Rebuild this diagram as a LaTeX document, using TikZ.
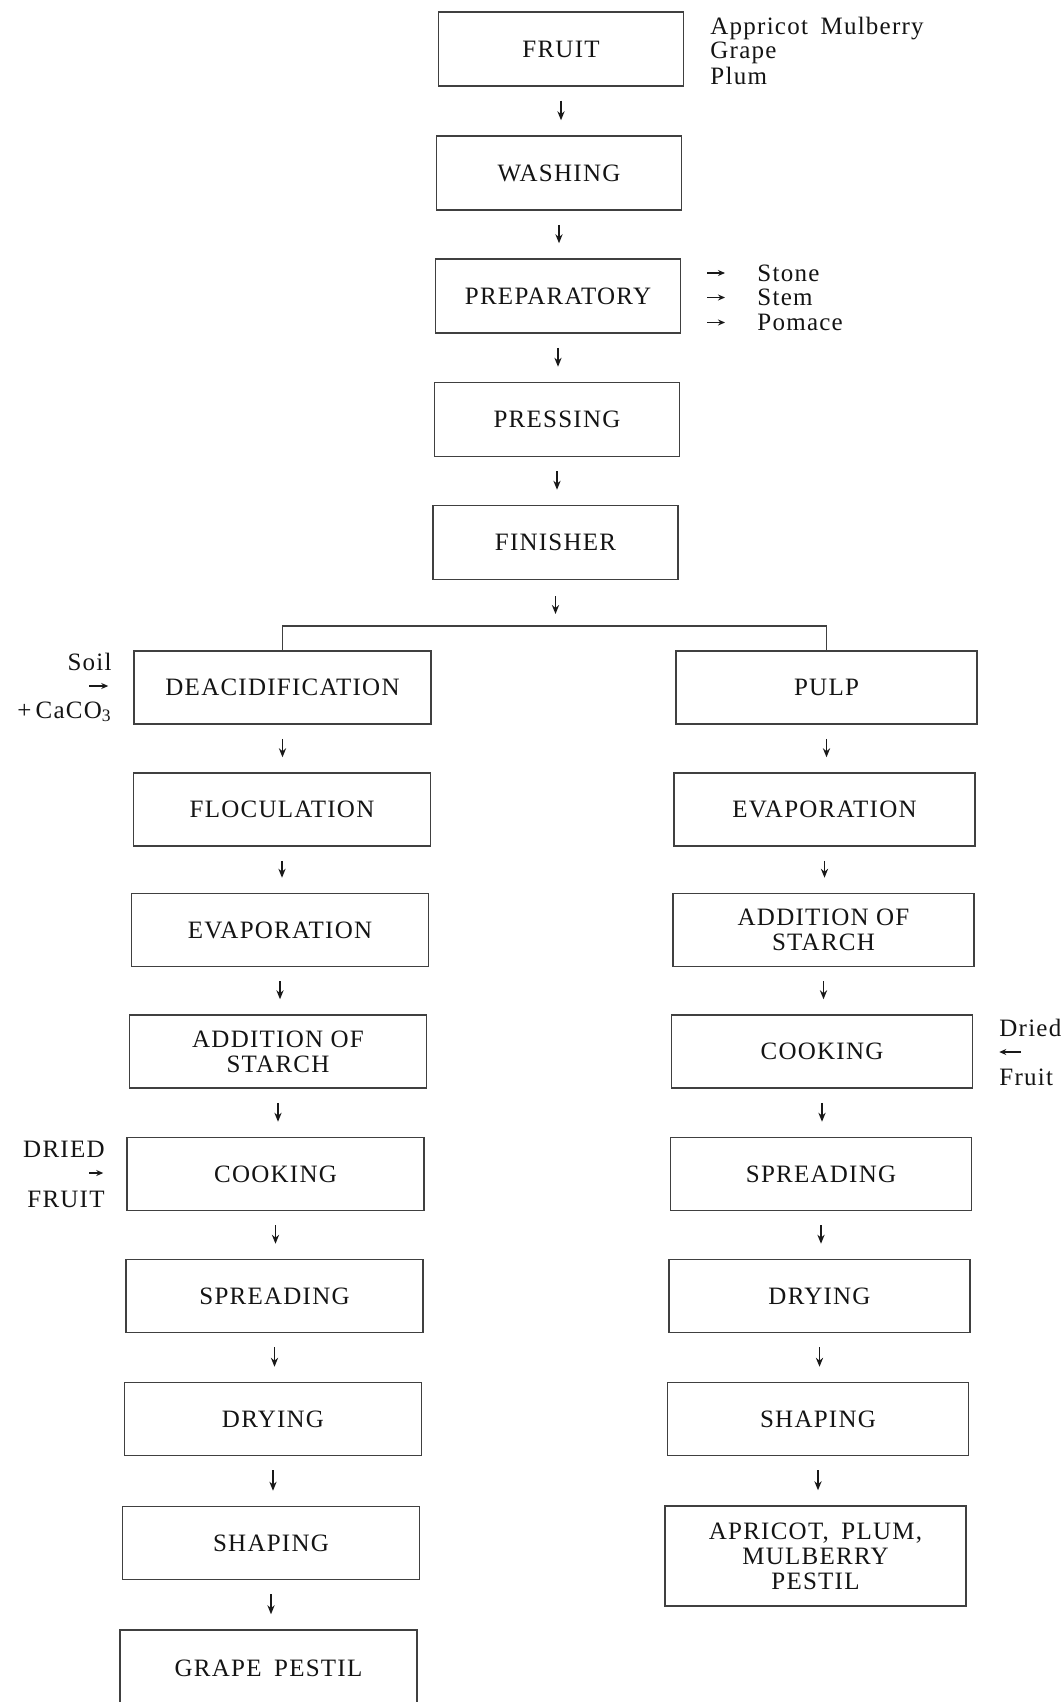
\documentclass[tikz,border=0pt]{standalone}
\usepackage{fontspec}
\setmainfont{Liberation Serif}[LetterSpace=5]
\usetikzlibrary{arrows.meta}
\begin{document}
\begin{tikzpicture}[x=0.5pt,y=-0.5pt,
  every node/.style={font=\fontsize{12.5}{12.5}\selectfont, text=black!92},
  stepbox/.style={draw=black!75, line width=0.75pt, align=center, inner sep=2pt},
  topbox/.style={stepbox, minimum width=122.5pt, minimum height=37pt},
  leftbox/.style={stepbox, minimum width=148.5pt, minimum height=36.5pt},
  rightbox/.style={stepbox, minimum width=150.5pt, minimum height=36.5pt},
  flow/.style={draw=black!90, line width=0.8pt, -{Stealth[length=4.5pt,width=3.6pt]},
    shorten <=7pt, shorten >=7.5pt},
  sidearrow/.style={draw=black!90, line width=0.8pt, -{Stealth[length=3.5pt,width=3pt]}},
  bracket/.style={draw=black!75, line width=0.75pt},
  note/.style={inner sep=0pt, align=left}]
\useasboundingbox (0,0) rectangle (1063,1702);
\fill[white] (0,0) rectangle (1063,1702);

% main line
\node[topbox] (fruit) at (561,49) {FRUIT};
\node[topbox] (wash)  at (559,173) {WASHING};
\node[topbox] (prep)  at (558,296) {PREPARATORY};
\node[topbox] (press) at (557,419.5) {PRESSING};
\node[topbox] (fin)   at (555.5,542.5) {FINISHER};

% grape branch
\node[leftbox] (deac)   at (282.5,687.5) {DEACIDIFICATION};
\node[leftbox] (floc)   at (282,809.5) {FLOCULATION};
\node[leftbox] (levap)  at (280,930) {EVAPORATION};
\node[leftbox] (lstar)  at (278,1051.5) {ADDITION OF\\STARCH};
\node[leftbox] (lcook)  at (275.5,1174) {COOKING};
\node[leftbox] (lspr)   at (274.5,1296) {SPREADING};
\node[leftbox] (ldry)   at (273,1419) {DRYING};
\node[leftbox] (lshape) at (271,1543) {SHAPING};
\node[leftbox, minimum height=38pt] (grape) at (268.5,1668) {GRAPE\enspace PESTIL};

% apricot / plum / mulberry branch
\node[rightbox] (pulp)   at (826.5,687.5) {PULP};
\node[rightbox] (revap)  at (824.5,809.5) {EVAPORATION};
\node[rightbox] (rstar)  at (823.5,930) {ADDITION OF\\STARCH};
\node[rightbox] (rcook)  at (822,1051.5) {COOKING};
\node[rightbox] (rspr)   at (821,1174) {SPREADING};
\node[rightbox] (rdry)   at (819.5,1296) {DRYING};
\node[rightbox] (rshape) at (818,1419) {SHAPING};
\node[rightbox, minimum height=50pt] (pestil) at (815.5,1556) {APRICOT,\enspace PLUM,\\MULBERRY\\PESTIL};

% flow arrows
\foreach \a/\b in {fruit/wash, wash/prep, prep/press, press/fin,
  deac/floc, floc/levap, levap/lstar, lstar/lcook, lcook/lspr, lspr/ldry, ldry/lshape, lshape/grape,
  pulp/revap, revap/rstar, rstar/rcook, rcook/rspr, rspr/rdry, rdry/rshape, rshape/pestil}
  \draw[flow] (\a.south) -- (\a.south |- \b.north);

% split into the two branches
\coordinate (split) at (555.5,626);
\draw[flow, shorten <=8pt, shorten >=6pt] (fin.south) -- (split);
\draw[bracket] (deac.north) -- (deac.north |- split) -- (pulp.north |- split) -- (pulp.north);

% raw fruits
\node[note, anchor=west] (kinds1) at (710,29) {Appricot\enspace Mulberry};
\node[note, anchor=west] (kinds2) at (710,53) {Grape};
\node[note, anchor=west] (kinds3) at (710,76) {Plum};

% waste from preparation
\node[note, anchor=west] (stone)  at (757,273) {Stone};
\node[note, anchor=west] (stem)   at (757,297.5) {Stem};
\node[note, anchor=west] (pomace) at (757,322.5) {Pomace};
\coordinate (w1) at (707,273);
\coordinate (w2) at (707,297.5);
\coordinate (w3) at (707,322.5);
\draw[sidearrow, shorten >=16pt] (w1) -- (stone.west);
\draw[sidearrow, shorten >=16pt] (w2) -- (stem.west);
\draw[sidearrow, shorten >=16pt] (w3) -- (pomace.west);

% deacidification agents
\node[note, anchor=east] (soil)  at (112,662) {Soil};
\node[note, anchor=east] (caco)  at (112,712) {+\,CaCO\textsubscript{3}};
\coordinate (s0) at (89,686);
\draw[sidearrow, shorten >=12.5pt] (s0) -- (s0 -| deac.west);

% dried fruit, grape branch
\node[note, anchor=east] (dried1) at (105,1149) {DRIED};
\node[note, anchor=east] (fruit1) at (105,1199) {FRUIT};
\coordinate (d0) at (89,1173);
\draw[sidearrow, shorten >=11.5pt] (d0) -- (d0 -| lcook.west);

% dried fruit, pestil branch
\node[note, anchor=west] (dried2) at (999,1028) {Dried};
\node[note, anchor=west] (fruit2) at (999,1077) {Fruit};
\coordinate (d1) at (1021,1052);
\draw[sidearrow, shorten >=13pt] (d1) -- (d1 -| rcook.east);
\end{tikzpicture}
\end{document}
